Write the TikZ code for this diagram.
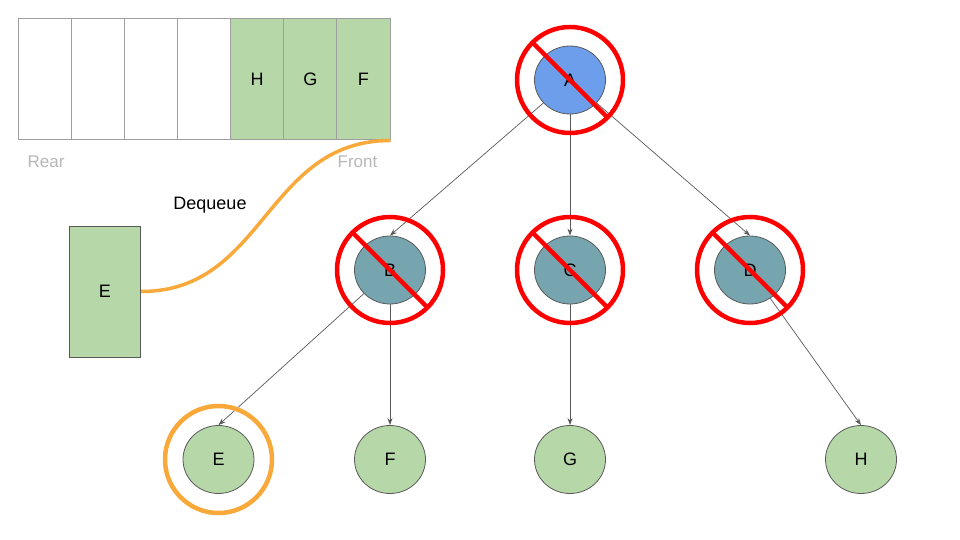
\documentclass[tikz,border=0pt]{standalone}
\usepackage{fontspec}
\setmainfont{Liberation Sans}
\usetikzlibrary{shapes.geometric,arrows.meta,calc}
\definecolor{linegray}{HTML}{595959}
\definecolor{cellgray}{HTML}{9E9E9E}
\definecolor{labgray}{HTML}{B7B7B7}
\definecolor{nblue}{HTML}{6D9EEB}
\definecolor{nteal}{HTML}{76A5AF}
\definecolor{ngreen}{HTML}{B6D7A8}
\definecolor{ringred}{HTML}{FF0000}
\definecolor{ringorange}{HTML}{F9A83A}
\begin{document}
\begin{tikzpicture}[x=1pt,y=-1pt,
  txt/.style={font=\fontsize{18}{20}\selectfont},
  tnode/.style={ellipse, draw=linegray, line width=0.8pt, minimum width=71pt, minimum height=68pt, inner sep=0pt, txt},
  cell/.style={draw=cellgray, line width=1pt, minimum width=53.14pt, minimum height=121pt, inner sep=0pt, txt},
  edge/.style={draw=linegray, line width=0.7pt, -{Stealth[length=7pt,width=5pt]}},
  ring/.style={draw=ringred, line width=4.5pt},
  oring/.style={draw=ringorange, line width=4.5pt},
  orangeline/.style={draw=ringorange, line width=3.5pt},
  side/.style={font=\fontsize{17}{20}\selectfont, text=labgray}
]
\useasboundingbox (0,0) rectangle (960,540);
% queue
\node[cell] (q1) at (44.57,79.5) {};
\node[cell] (q2) at (97.71,79.5) {};
\node[cell] (q3) at (150.86,79.5) {};
\node[cell] (q4) at (204.0,79.5) {};
\node[cell, fill=ngreen] (q5) at (257.14,79.5) {H};
\node[cell, fill=ngreen] (q6) at (310.29,79.5) {G};
\node[cell, fill=ngreen] (q7) at (363.43,79.5) {F};
\node[side] (rear) at (46,162) {Rear};
\node[side] (front) at (357.5,162) {Front};
% dequeued element
\node[draw=linegray, line width=0.8pt, fill=ngreen, minimum width=71.5pt, minimum height=131pt, inner sep=0pt, txt] (Er) at (105,291.5) {E};
\node[txt] (deq) at (210,205) {Dequeue};
\draw[orangeline] (Er.east) .. controls +(124,0) and +(-125,0) .. (q7.south east);
% tree nodes
\node[tnode, fill=nblue] (A) at (570,80) {A};
\node[tnode, fill=nteal] (B) at (390,270) {B};
\node[tnode, fill=nteal] (C) at (570,270) {C};
\node[tnode, fill=nteal] (D) at (750,270) {D};
\node[tnode, fill=ngreen] (E) at (218.5,459.5) {E};
\node[tnode, fill=ngreen] (F) at (390,459.5) {F};
\node[tnode, fill=ngreen] (G) at (570,459.5) {G};
\node[tnode, fill=ngreen] (H) at (861,459.5) {H};
% edges
\draw[edge] (A) -- (B.north);
\draw[edge] (A) -- (C.north);
\draw[edge] (A) -- (D.north);
\draw[edge] (B) -- (E.north);
\draw[edge] (B) -- (F.north);
\draw[edge] (C) -- (G.north);
\draw[edge] (D) -- (H.north);
% crossed-out rings
\foreach \n in {A,B,C,D}{
  \draw[ring] (\n.center) circle[radius=53pt];
  \draw[ring] ($(\n.center)+(135:53pt)$) -- ($(\n.center)+(-45:53pt)$);
}
\draw[oring] (E.center) circle[radius=53.5pt];
\end{tikzpicture}
\end{document}
